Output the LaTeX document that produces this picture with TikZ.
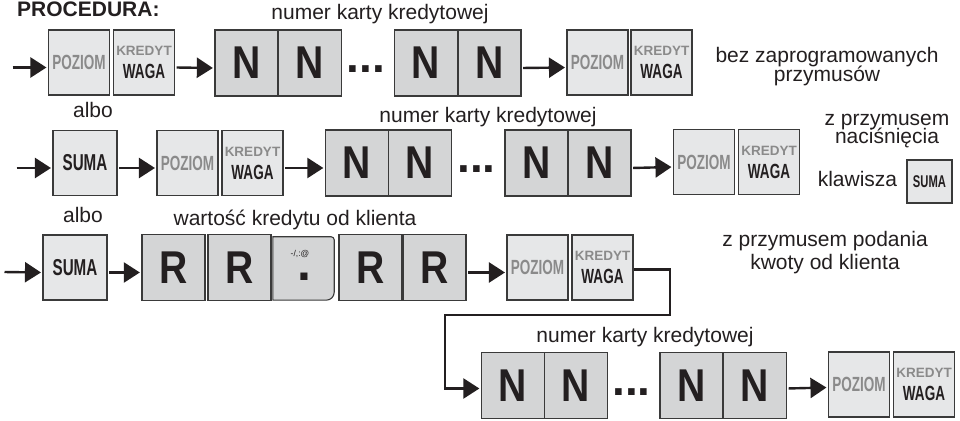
\documentclass[tikz,border=0pt]{standalone}
\usepackage{fontspec}
\setmainfont{Liberation Sans}
\newfontfamily\keyfont[FakeStretch=0.66]{Liberation Sans}
\newfontfamily\bigfont[FakeStretch=0.85]{Liberation Sans}
\usetikzlibrary{arrows.meta}
\definecolor{ink}{HTML}{231F20}
\definecolor{keyfill}{HTML}{E6E7E8}
\definecolor{bigfill}{HTML}{D4D5D6}
\definecolor{edge}{HTML}{3A3A3A}
\definecolor{poz}{HTML}{8A8A8A}
\tikzset{
  key/.style={draw=edge, line width=1.1pt, fill=keyfill, minimum width=61pt, minimum height=65pt, inner sep=0pt},
  pozkey/.style={key, font=\keyfont\bfseries\fontsize{20.5}{23}\selectfont, text=poz},
  kredkey/.style={key, font=\keyfont\bfseries\fontsize{20.5}{23}\selectfont, text=ink, align=center},
  sumakey/.style={key, minimum width=64pt, font=\keyfont\bfseries\fontsize{23}{23}\selectfont, text=ink},
  smallsuma/.style={key, minimum width=45pt, minimum height=43pt, font=\keyfont\bfseries\fontsize{17}{18}\selectfont, text=ink},
  bigkey/.style={draw=edge, line width=1.3pt, fill=bigfill, minimum width=63pt, minimum height=66pt, inner sep=0pt, font=\bigfont\bfseries\fontsize{46}{46}\selectfont, text=ink},
  dots/.style={inner sep=0pt, font=\bfseries\fontsize{46}{46}\selectfont, text=ink},
  lbl/.style={inner sep=0pt, anchor=base, font=\fontsize{21}{21}\selectfont, text=ink},
  arr/.style={-{Triangle[length=16pt,width=20pt]}, line width=2.4pt, draw=ink, shorten <=1.5pt, shorten >=1.5pt},
  conn/.style={line width=2.4pt, draw=ink}
}
\newcommand{\kred}{{\normalfont\bfseries\fontsize{13.5}{14}\selectfont\color{poz}KREDYT}\\WAGA}
\begin{document}
\begin{tikzpicture}[x=1pt,y=1pt]
\fill[white] (0,0) rectangle (960,420);
\useasboundingbox (0,0) rectangle (960,420);

% titles and labels
\node[lbl, anchor=base west, font=\bfseries\fontsize{21}{22}\selectfont] (title) at (17,403.5) {PROCEDURA:};
\node[lbl] (num1) at (380,400) {numer karty kredytowej};
\node[lbl] (albo1) at (93,302) {albo};
\node[lbl] (bez1) at (827,357) {bez zaprogramowanych};
\node[lbl] (bez2) at (827,338) {przymusów};
\node[lbl] (num2) at (488,297) {numer karty kredytowej};
\node[lbl] (zp1) at (887,294) {z przymusem};
\node[lbl] (zp2) at (887,276) {naciśnięcia};
\node[lbl] (klaw) at (857.5,233) {klawisza};
\node[lbl] (albo2) at (83,197) {albo};
\node[lbl] (wart) at (295,194) {wartość kredytu od klienta};
\node[lbl] (zk1) at (825,173) {z przymusem podania};
\node[lbl] (zk2) at (825,150) {kwoty od klienta};
\node[lbl] (num4) at (645,77) {numer karty kredytowej};

% row 1
\coordinate (s1) at (11,352.5);
\node[pozkey] (p1) at (79,357.5) {POZIOM};
\node[kredkey] (k1) at (144,357.5) {\kred};
\node[bigkey] (n1a) at (246.5,357) {N};
\node[bigkey] (n1b) at (310,357) {N};
\node[dots] (d1) at (366,351) {...};
\node[bigkey] (n1c) at (426,357) {N};
\node[bigkey] (n1d) at (489.5,357) {N};
\node[pozkey] (p1b) at (597.5,357.5) {POZIOM};
\node[kredkey] (k1b) at (661.5,357.5) {\kred};
\draw[arr] (s1) -- ([yshift=-5]p1.west);
\draw[arr] ([yshift=-5]k1.east) -- ([yshift=-5]n1a.west);
\draw[arr] ([yshift=-5]n1d.east) -- ([yshift=-5]p1b.west);

% row 2
\coordinate (s2) at (15,252);
\node[sumakey] (su2) at (85,257) {SUMA};
\node[pozkey] (p2) at (187.5,257) {POZIOM};
\node[kredkey] (k2) at (252.5,257) {\kred};
\node[bigkey] (n2a) at (357,257) {N};
\node[bigkey] (n2b) at (420,257) {N};
\node[dots] (d2) at (476.5,250.5) {...};
\node[bigkey] (n2c) at (536.5,257) {N};
\node[bigkey] (n2d) at (599.5,257) {N};
\node[pozkey] (p2b) at (704,258) {POZIOM};
\node[kredkey] (k2b) at (769,258) {\kred};
\node[smallsuma] (su2s) at (929.5,238.5) {SUMA};
\draw[arr] (s2) -- ([yshift=-5]su2.west);
\draw[arr] ([yshift=-5]su2.east) -- ([yshift=-5]p2.west);
\draw[arr] ([yshift=-5]k2.east) -- ([yshift=-5]n2a.west);
\draw[arr] ([yshift=-5]n2d.east) -- ([yshift=-5]p2b.west);

% row 3
\coordinate (s3) at (3,148);
\node[sumakey] (su3) at (75,152.5) {SUMA};
\node[bigkey] (r3a) at (173.5,152.5) {R};
\node[bigkey] (r3b) at (239.5,152.5) {R};
\node[minimum width=61pt, minimum height=63pt, inner sep=0pt] (dk) at (303.5,151.5) {};
\draw[draw=edge, line width=1.1pt, fill=bigfill] (dk.south west) -- (dk.north west) -- ([xshift=-3pt]dk.north east) arc[start angle=90, end angle=0, radius=3pt] -- ([yshift=8pt]dk.south east) arc[start angle=0, end angle=-90, radius=8pt] -- cycle;
\node[inner sep=0pt, font=\fontsize{8.5}{8.5}\selectfont, text=ink, anchor=base] (dkt) at (300,163) {-/,:@};
\node[inner sep=0pt, font=\bfseries\fontsize{50}{50}\selectfont, text=ink, anchor=base] (dkd) at (304.5,139) {.};
\node[bigkey] (r3c) at (370.5,152.5) {R};
\node[bigkey] (r3d) at (434.5,152.5) {R};
\node[pozkey] (p3) at (537.5,152.5) {POZIOM};
\node[kredkey] (k3) at (602.5,152.5) {\kred};
\draw[arr] (s3) -- ([yshift=-5]su3.west);
\draw[arr] ([yshift=-5]su3.east) -- ([yshift=-5]r3a.west);
\draw[arr] ([yshift=-5]r3d.east) -- ([yshift=-5]p3.west);

% link to row 4
\coordinate (c1) at (670,105);
\coordinate (c2) at (445,105);

% row 4
\node[bigkey] (n4a) at (513,34.5) {N};
\node[bigkey] (n4b) at (576,34.5) {N};
\node[dots] (d4) at (631.5,28) {...};
\node[bigkey] (n4c) at (691.5,34.5) {N};
\node[bigkey] (n4d) at (755,34.5) {N};
\node[pozkey] (p4) at (859,35.5) {POZIOM};
\node[kredkey] (k4) at (924,35.5) {\kred};
\draw[conn, -{Triangle[length=16pt,width=20pt]}, shorten >=1.5pt] ([yshift=-2]k3.east) -| (c1) -- (c2) |- ([yshift=-3]n4a.west);
\draw[arr] ([yshift=-3]n4d.east) -- ([yshift=-3]p4.west);
\end{tikzpicture}
\end{document}
